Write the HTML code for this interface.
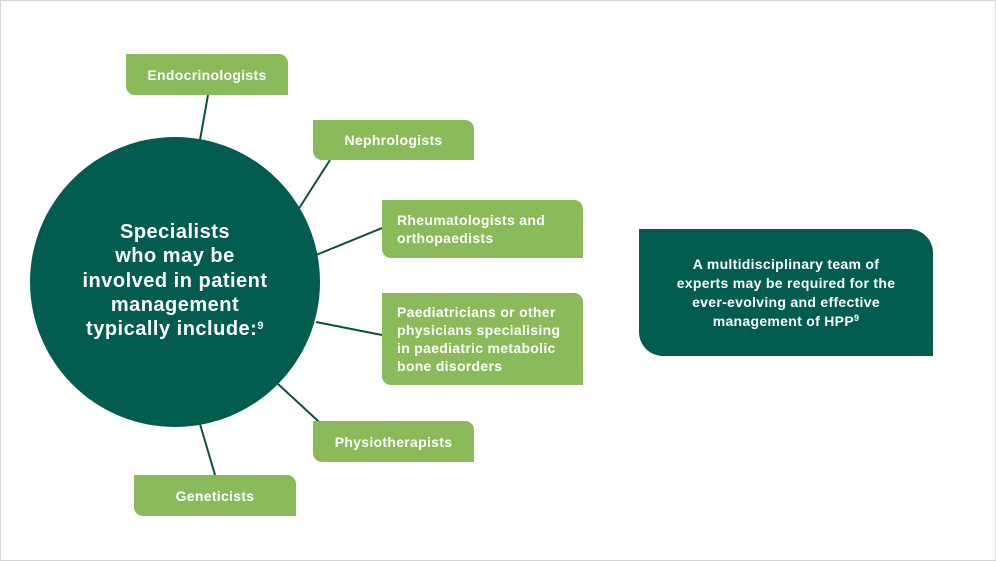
<!DOCTYPE html>
<html><head><meta charset="utf-8"><style>
html,body{margin:0;padding:0;background:#fff}
#p{position:relative;width:996px;height:561px;overflow:hidden;font-family:"Liberation Sans",sans-serif}
#bd{position:absolute;left:0;top:0;width:996px;height:561px;box-sizing:border-box;border:1px solid #d6d6d6;pointer-events:none}
.b{position:absolute;background:#8aba5a;color:#fff;font-size:14px;font-weight:bold;letter-spacing:0.3px;border-radius:0 9px 0 9px;box-sizing:border-box;display:flex;align-items:center}
.c{justify-content:center;text-align:center}
.l{padding-left:15px;line-height:18px}
svg{position:absolute;left:0;top:0}
#ct{position:absolute;left:45px;top:220px;width:260px;text-align:center;color:#fff;font-weight:bold;font-size:20px;line-height:24.3px;letter-spacing:0.5px}
#d{position:absolute;left:639px;top:229px;width:294px;height:127px;background:#025c4f;border-radius:0 24px 0 24px;color:#fff;font-weight:bold;font-size:14px;line-height:19px;text-align:center;display:flex;align-items:center;justify-content:center;letter-spacing:0.3px}
</style></head><body><div id="p">
<svg width="996" height="561">
<g stroke="#0b4e45" stroke-width="2">
<line x1="200" y1="140" x2="208" y2="95"/>
<line x1="298" y1="210" x2="330" y2="160"/>
<line x1="316" y1="255" x2="382" y2="228"/>
<line x1="316" y1="322" x2="382" y2="335"/>
<line x1="278" y1="384" x2="330" y2="432"/>
<line x1="200" y1="424" x2="215" y2="475"/>
</g>
<circle cx="175" cy="282" r="145" fill="#025c4f"/>
</svg>
<div id="ct">Specialists<br>who may be<br>involved in patient<br>management<br>typically include:<sup style="font-size:11px;vertical-align:6px;line-height:0">9</sup></div>
<div class="b c" style="left:126px;top:54px;width:162px;height:41px">Endocrinologists</div>
<div class="b c" style="left:313px;top:120px;width:161px;height:40px">Nephrologists</div>
<div class="b l" style="left:382px;top:200px;width:201px;height:58px">Rheumatologists and<br>orthopaedists</div>
<div class="b l" style="left:382px;top:293px;width:201px;height:92px">Paediatricians or other<br>physicians specialising<br>in paediatric metabolic<br>bone disorders</div>
<div class="b c" style="left:313px;top:421px;width:161px;height:41px">Physiotherapists</div>
<div class="b c" style="left:134px;top:475px;width:162px;height:41px">Geneticists</div>
<div id="d"><div>A multidisciplinary team of<br>experts may be required for the<br>ever-evolving and effective<br>management of HPP<sup style="font-size:9px;vertical-align:5px;line-height:0">9</sup></div></div>
<div id="bd"></div>
</div></body></html>
